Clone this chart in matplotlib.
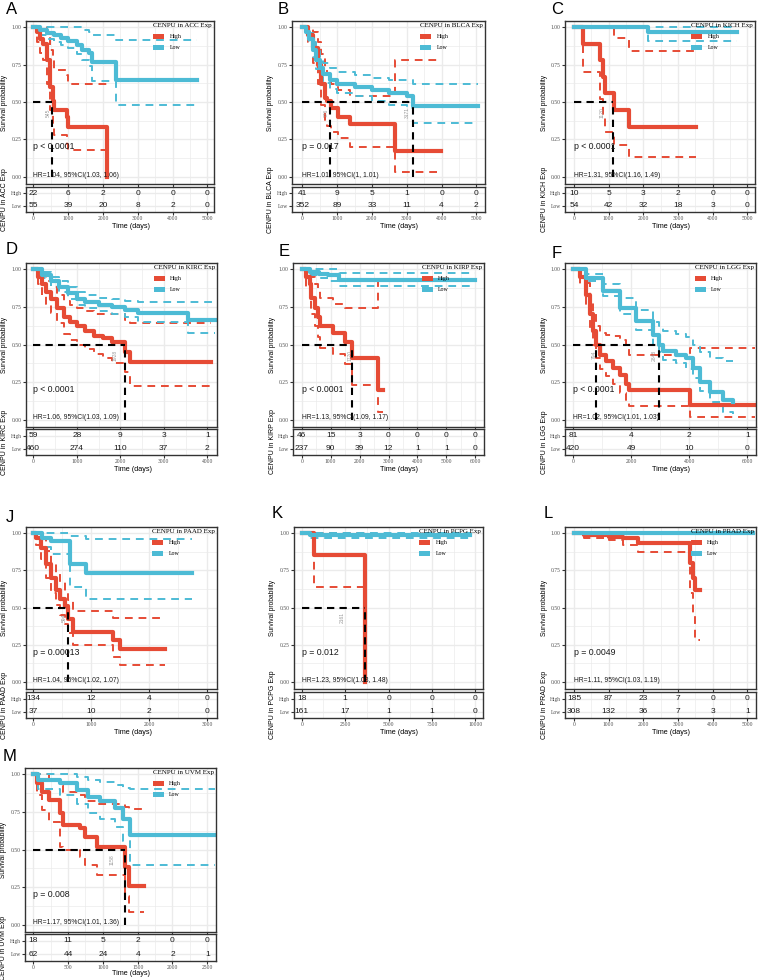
import matplotlib
matplotlib.use("Agg")
import matplotlib.pyplot as plt
from matplotlib.patches import Patch
from matplotlib.ticker import MultipleLocator

RED = "#E64B35"
BLUE = "#4DBBD5"
GRID = "#EBEBEB"
SANS = "Liberation Sans"
SERIF = "Liberation Serif"

plt.rcParams["font.family"] = SERIF

# ---------------- A: ACC ----------------
acc_high_t = [0, 96, 192, 287, 383, 479, 556, 594, 958, 1006, 2126]
acc_high_s = [1.0, 0.97, 0.92, 0.89, 0.78, 0.60, 0.51, 0.45, 0.40, 0.335, 0.0]
acc_high_up = [1.0, 1.0, 1.0, 1.0, 0.95, 0.85, 0.78, 0.715, 0.68, 0.62, 0.62]
acc_high_lo = [1.0, 0.90, 0.83, 0.78, 0.62, 0.45, 0.35, 0.28, 0.22, 0.18, 0.18]
acc_low_t = [0, 200, 400, 600, 800, 1000, 1250, 1400, 1600, 1700, 2370, 4694]
acc_low_s = [1.0, 0.98, 0.96, 0.95, 0.93, 0.91, 0.88, 0.85, 0.83, 0.77, 0.645, 0.645]
acc_low_up = [1.0, 1.0, 1.0, 1.0, 1.0, 1.0, 1.0, 0.98, 0.97, 0.95, 0.915, 0.915]
acc_low_lo = [1.0, 0.95, 0.92, 0.90, 0.88, 0.86, 0.82, 0.78, 0.74, 0.64, 0.48, 0.48]
acc_risk_t = [0, 1000, 2000, 3000, 4000, 5000]
acc_risk_high = [22, 6, 2, 0, 0, 0]
acc_risk_low = [55, 39, 20, 8, 2, 0]
acc_median = [546]
acc_median_lab = ["545"]

# ---------------- B: BLCA ----------------
blca_high_t = [0, 150, 300, 450, 550, 640, 700, 820, 1030, 1370, 2650, 3990]
blca_high_s = [1.0, 0.95, 0.86, 0.75, 0.62, 0.53, 0.51, 0.46, 0.40, 0.35, 0.17, 0.17]
blca_high_up = [1.0, 1.0, 0.97, 0.90, 0.82, 0.73, 0.68, 0.62, 0.58, 0.54, 0.78, 0.78]
blca_high_lo = [1.0, 0.90, 0.76, 0.62, 0.48, 0.38, 0.34, 0.30, 0.26, 0.20, 0.035, 0.035]
blca_low_t = [0, 100, 200, 300, 400, 500, 600, 800, 1000, 1500, 2000, 2500, 3000, 3180, 5050]
blca_low_s = [1.0, 0.97, 0.92, 0.85, 0.78, 0.73, 0.69, 0.65, 0.62, 0.60, 0.58, 0.56, 0.54, 0.475, 0.475]
blca_low_up = [1.0, 1.0, 0.96, 0.90, 0.84, 0.79, 0.76, 0.73, 0.70, 0.68, 0.66, 0.65, 0.65, 0.62, 0.62]
blca_low_lo = [1.0, 0.95, 0.88, 0.80, 0.72, 0.67, 0.63, 0.59, 0.56, 0.54, 0.51, 0.48, 0.46, 0.36, 0.36]
blca_risk_t = [0, 1000, 2000, 3000, 4000, 5000]
blca_risk_high = [41, 9, 5, 1, 0, 0]
blca_risk_low = [352, 89, 33, 11, 4, 2]
blca_median = [805, 3180]
blca_median_lab = ["776", "3171"]

# ---------------- C: KICH ----------------
kich_high_t = [0, 270, 750, 847, 895, 1165, 1588, 3513]
kich_high_s = [1.0, 0.89, 0.78, 0.67, 0.56, 0.445, 0.335, 0.335]
kich_high_up = [1.0, 1.0, 1.0, 1.0, 1.0, 0.93, 0.84, 0.84]
kich_high_lo = [1.0, 0.70, 0.52, 0.41, 0.30, 0.21, 0.135, 0.135]
kich_low_t = [0, 2146, 4700]
kich_low_s = [1.0, 0.97, 0.97]
kich_low_up = [1.0, 1.0, 1.0]
kich_low_lo = [1.0, 0.91, 0.91]
kich_risk_t = [0, 1000, 2000, 3000, 4000, 5000]
kich_risk_high = [10, 5, 3, 2, 0, 0]
kich_risk_low = [54, 42, 32, 18, 3, 0]
kich_median = [1136]
kich_median_lab = ["1120"]

# ---------------- D: KIRC ----------------
kirc_high_t = [0, 100, 200, 300, 400, 550, 700, 850, 1000, 1200, 1400, 1600, 1800, 2107, 2230, 4080]
kirc_high_s = [1.0, 0.95, 0.90, 0.85, 0.80, 0.74, 0.68, 0.65, 0.62, 0.59, 0.56, 0.545, 0.52, 0.45, 0.385, 0.385]
kirc_high_up = [1.0, 1.0, 0.96, 0.92, 0.88, 0.83, 0.79, 0.76, 0.74, 0.72, 0.70, 0.70, 0.70, 0.66, 0.645, 0.645]
kirc_high_lo = [1.0, 0.90, 0.83, 0.77, 0.71, 0.64, 0.57, 0.53, 0.50, 0.47, 0.44, 0.41, 0.38, 0.32, 0.225, 0.225]
kirc_low_t = [0, 200, 400, 600, 800, 1000, 1200, 1500, 1800, 2100, 2400, 3550, 4180]
kirc_low_s = [1.0, 0.96, 0.92, 0.88, 0.84, 0.80, 0.78, 0.765, 0.75, 0.73, 0.71, 0.665, 0.665]
kirc_low_up = [1.0, 0.98, 0.95, 0.92, 0.88, 0.85, 0.83, 0.81, 0.80, 0.79, 0.78, 0.78, 0.78]
kirc_low_lo = [1.0, 0.94, 0.89, 0.85, 0.80, 0.76, 0.74, 0.72, 0.70, 0.68, 0.65, 0.58, 0.58]
kirc_risk_t = [0, 1000, 2000, 3000, 4000]
kirc_risk_high = [59, 28, 9, 3, 1]
kirc_risk_low = [460, 274, 110, 37, 2]
kirc_median = [2107]
kirc_median_lab = ["1928"]

# ---------------- E: KIRP ----------------
kirp_high_t = [0, 160, 276, 334, 450, 565, 622, 1083, 1486, 1751, 2638, 2811]
kirp_high_s = [1.0, 0.95, 0.90, 0.81, 0.74, 0.68, 0.625, 0.58, 0.515, 0.41, 0.20, 0.20]
kirp_high_up = [1.0, 1.0, 0.99, 0.95, 0.90, 0.86, 0.81, 0.77, 0.74, 0.74, 0.92, 0.92]
kirp_high_lo = [1.0, 0.88, 0.80, 0.70, 0.62, 0.55, 0.48, 0.44, 0.37, 0.23, 0.05, 0.05]
kirp_low_t = [0, 300, 600, 900, 1290, 5980]
kirp_low_s = [1.0, 0.98, 0.97, 0.96, 0.93, 0.93]
kirp_low_up = [1.0, 1.0, 1.0, 1.0, 0.975, 0.975]
kirp_low_lo = [1.0, 0.96, 0.94, 0.92, 0.89, 0.89]
kirp_risk_t = [0, 1000, 2000, 3000, 4000, 5000, 6000]
kirp_risk_high = [46, 15, 3, 0, 0, 0, 0]
kirp_risk_low = [237, 90, 39, 12, 1, 1, 0]
kirp_median = [1751]
kirp_median_lab = ["1770"]

# ---------------- F: LGG ----------------
lgg_high_t = [0, 218, 448, 563, 678, 793, 908, 1138, 1368, 1598, 1828, 1920, 4011, 6250]
lgg_high_s = [1.0, 0.95, 0.83, 0.70, 0.59, 0.50, 0.43, 0.39, 0.345, 0.30, 0.24, 0.20, 0.096, 0.096]
lgg_high_up = [1.0, 0.99, 0.91, 0.80, 0.70, 0.62, 0.58, 0.565, 0.56, 0.53, 0.50, 0.43, 0.48, 0.48]
lgg_high_lo = [1.0, 0.90, 0.75, 0.61, 0.50, 0.41, 0.34, 0.29, 0.24, 0.18, 0.13, 0.09, 0.018, 0.018]
lgg_low_t = [0, 448, 1023, 1598, 2172, 2747, 2954, 3092, 3552, 3897, 4126, 4356, 4701, 5161, 5506]
lgg_low_s = [1.0, 0.945, 0.855, 0.745, 0.655, 0.565, 0.50, 0.455, 0.43, 0.41, 0.345, 0.25, 0.185, 0.13, 0.12]
lgg_low_up = [1.0, 0.97, 0.90, 0.81, 0.73, 0.65, 0.62, 0.59, 0.57, 0.55, 0.50, 0.45, 0.41, 0.39, 0.39]
lgg_low_lo = [1.0, 0.92, 0.82, 0.70, 0.60, 0.50, 0.45, 0.40, 0.375, 0.34, 0.28, 0.19, 0.12, 0.05, 0.04]
lgg_risk_t = [0, 2000, 4000, 6000]
lgg_risk_high = [81, 4, 2, 1]
lgg_risk_low = [420, 49, 10, 0]
lgg_median = [793, 2954]
lgg_median_lab = ["794", "2848"]

# ---------------- J: PAAD ----------------
paad_high_t = [0, 50, 133, 217, 300, 383, 467, 550, 603, 684, 1380, 1494, 2270]
paad_high_s = [1.0, 0.97, 0.90, 0.79, 0.70, 0.62, 0.555, 0.51, 0.42, 0.334, 0.28, 0.22, 0.22]
paad_high_up = [1.0, 1.0, 0.96, 0.88, 0.80, 0.73, 0.67, 0.61, 0.55, 0.475, 0.43, 0.43, 0.43]
paad_high_lo = [1.0, 0.92, 0.83, 0.70, 0.60, 0.52, 0.45, 0.39, 0.33, 0.25, 0.17, 0.115, 0.115]
paad_low_t = [0, 144, 300, 633, 900, 2740]
paad_low_s = [1.0, 0.97, 0.945, 0.79, 0.73, 0.73]
paad_low_up = [1.0, 1.0, 1.0, 0.98, 0.96, 0.96]
paad_low_lo = [1.0, 0.91, 0.86, 0.64, 0.555, 0.555]
paad_risk_t = [0, 1000, 2000, 3000]
paad_risk_high = [134, 12, 4, 0]
paad_risk_low = [37, 10, 2, 0]
paad_median = [603]
paad_median_lab = ["594"]

# ---------------- K: PCPG ----------------
pcpg_high_t = [0, 690, 3630]
pcpg_high_s = [1.0, 0.855, 0.0]
pcpg_high_up = [1.0, 1.0, 1.0]
pcpg_high_lo = [1.0, 0.637, 0.637]
pcpg_low_t = [0, 500, 9680]
pcpg_low_s = [1.0, 0.99, 0.99]
pcpg_low_up = [1.0, 1.0, 1.0]
pcpg_low_lo = [1.0, 0.97, 0.97]
pcpg_risk_t = [0, 2500, 5000, 7500, 10000]
pcpg_risk_high = [18, 1, 0, 0, 0]
pcpg_risk_low = [161, 17, 1, 1, 0]
pcpg_median = [3630]
pcpg_median_lab = ["2161"]

# ---------------- L: PRAD ----------------
prad_high_t = [0, 300, 1000, 1400, 1860, 3350, 3420, 3490, 3640]
prad_high_s = [1.0, 0.985, 0.975, 0.965, 0.935, 0.80, 0.70, 0.62, 0.62]
prad_high_up = [1.0, 1.0, 1.0, 1.0, 1.0, 1.0, 1.0, 1.0, 1.0]
prad_high_lo = [1.0, 0.97, 0.955, 0.92, 0.875, 0.60, 0.45, 0.28, 0.28]
prad_low_t = [0, 5170]
prad_low_s = [1.0, 1.0]
prad_low_up = [1.0, 1.0]
prad_low_lo = [1.0, 0.985]
prad_risk_t = [0, 1000, 2000, 3000, 4000, 5000]
prad_risk_high = [185, 87, 23, 7, 0, 0]
prad_risk_low = [308, 132, 36, 7, 3, 1]
prad_median = []
prad_median_lab = []

# ---------------- M: UVM ----------------
uvm_high_t = [0, 48, 120, 230, 384, 432, 672, 744, 912, 1320, 1368, 1584]
uvm_high_s = [1.0, 0.94, 0.885, 0.83, 0.74, 0.66, 0.64, 0.585, 0.52, 0.385, 0.26, 0.26]
uvm_high_up = [1.0, 1.0, 1.0, 0.97, 0.93, 0.88, 0.86, 0.82, 0.80, 0.78, 0.77, 0.77]
uvm_high_lo = [1.0, 0.86, 0.76, 0.685, 0.52, 0.50, 0.45, 0.395, 0.33, 0.19, 0.085, 0.085]
uvm_low_t = [0, 72, 384, 624, 792, 960, 1176, 1296, 1392, 2615]
uvm_low_s = [1.0, 0.96, 0.94, 0.895, 0.85, 0.82, 0.775, 0.70, 0.595, 0.595]
uvm_low_up = [1.0, 1.0, 1.0, 0.98, 0.96, 0.95, 0.93, 0.91, 0.90, 0.90]
uvm_low_lo = [1.0, 0.90, 0.86, 0.80, 0.74, 0.70, 0.65, 0.56, 0.40, 0.40]
uvm_risk_t = [0, 500, 1000, 1500, 2000, 2500]
uvm_risk_high = [18, 11, 5, 2, 0, 0]
uvm_risk_low = [62, 44, 24, 4, 2, 1]
uvm_median = [1317]
uvm_median_lab = ["1158"]

panels = [
    ("A", "ACC", (acc_high_t, acc_high_s, acc_high_up, acc_high_lo),
     (acc_low_t, acc_low_s, acc_low_up, acc_low_lo),
     (acc_risk_t, acc_risk_high, acc_risk_low), acc_median, acc_median_lab,
     "p < 0.0001", "HR=1.04, 95%CI(1.03, 1.06)"),
    ("B", "BLCA", (blca_high_t, blca_high_s, blca_high_up, blca_high_lo),
     (blca_low_t, blca_low_s, blca_low_up, blca_low_lo),
     (blca_risk_t, blca_risk_high, blca_risk_low), blca_median, blca_median_lab,
     "p = 0.017", "HR=1.01, 95%CI(1, 1.01)"),
    ("C", "KICH", (kich_high_t, kich_high_s, kich_high_up, kich_high_lo),
     (kich_low_t, kich_low_s, kich_low_up, kich_low_lo),
     (kich_risk_t, kich_risk_high, kich_risk_low), kich_median, kich_median_lab,
     "p < 0.0001", "HR=1.31, 95%CI(1.16, 1.49)"),
    ("D", "KIRC", (kirc_high_t, kirc_high_s, kirc_high_up, kirc_high_lo),
     (kirc_low_t, kirc_low_s, kirc_low_up, kirc_low_lo),
     (kirc_risk_t, kirc_risk_high, kirc_risk_low), kirc_median, kirc_median_lab,
     "p < 0.0001", "HR=1.06, 95%CI(1.03, 1.09)"),
    ("E", "KIRP", (kirp_high_t, kirp_high_s, kirp_high_up, kirp_high_lo),
     (kirp_low_t, kirp_low_s, kirp_low_up, kirp_low_lo),
     (kirp_risk_t, kirp_risk_high, kirp_risk_low), kirp_median, kirp_median_lab,
     "p < 0.0001", "HR=1.13, 95%CI(1.09, 1.17)"),
    ("F", "LGG", (lgg_high_t, lgg_high_s, lgg_high_up, lgg_high_lo),
     (lgg_low_t, lgg_low_s, lgg_low_up, lgg_low_lo),
     (lgg_risk_t, lgg_risk_high, lgg_risk_low), lgg_median, lgg_median_lab,
     "p < 0.0001", "HR=1.02, 95%CI(1.01, 1.03)"),
    ("J", "PAAD", (paad_high_t, paad_high_s, paad_high_up, paad_high_lo),
     (paad_low_t, paad_low_s, paad_low_up, paad_low_lo),
     (paad_risk_t, paad_risk_high, paad_risk_low), paad_median, paad_median_lab,
     "p = 0.00013", "HR=1.04, 95%CI(1.02, 1.07)"),
    ("K", "PCPG", (pcpg_high_t, pcpg_high_s, pcpg_high_up, pcpg_high_lo),
     (pcpg_low_t, pcpg_low_s, pcpg_low_up, pcpg_low_lo),
     (pcpg_risk_t, pcpg_risk_high, pcpg_risk_low), pcpg_median, pcpg_median_lab,
     "p = 0.012", "HR=1.23, 95%CI(1.03, 1.48)"),
    ("L", "PRAD", (prad_high_t, prad_high_s, prad_high_up, prad_high_lo),
     (prad_low_t, prad_low_s, prad_low_up, prad_low_lo),
     (prad_risk_t, prad_risk_high, prad_risk_low), prad_median, prad_median_lab,
     "p = 0.0049", "HR=1.11, 95%CI(1.03, 1.19)"),
    ("M", "UVM", (uvm_high_t, uvm_high_s, uvm_high_up, uvm_high_lo),
     (uvm_low_t, uvm_low_s, uvm_low_up, uvm_low_lo),
     (uvm_risk_t, uvm_risk_high, uvm_risk_low), uvm_median, uvm_median_lab,
     "p = 0.008", "HR=1.17, 95%CI(1.01, 1.36)"),
]

# layout in pixels: row, box left, box right, xlim, minor step, letter pos, median label x
LAYOUT = {
    "A": (1, 26, 214, (-210, 5190), 500, (6, 10), [430]),
    "B": (1, 292, 485, (-296, 5250), 500, (278, 10), [690, 3010]),
    "C": (1, 565, 755, (-260, 5222), 500, (551, 10), [800]),
    "D": (2, 26, 217, (-168, 4224), 500, (6, 249), [1877]),
    "E": (2, 293, 484, (-301, 6301), 500, (279, 252), [1660]),
    "F": (2, 565, 756, (-286, 6300), 1000, (552, 253), [720, 2800]),
    "J": (3, 26, 217, (-126, 3167), 500, (6, 518), [540]),
    "K": (3, 294, 483, (-444, 10442), 1250, (272, 514), [2315]),
    "L": (3, 565, 756, (-260, 5251), 500, (544, 514), []),
    "M": (4, 25, 216, (-119, 2625), 250, (3, 756), [1130]),
}
# box top, box bottom, table top, table bottom, xlabel y
ROWS = {1: (21, 184, 187, 212, 226), 2: (263, 427, 429, 455, 469),
        3: (527, 689, 692, 718, 732), 4: (768, 932, 934, 961, 973)}

W, H = 758, 980
fig = plt.figure(figsize=(W / 100, H / 100), dpi=100)


def rect(l, t, r, b):
    return [l / W, 1 - b / H, (r - l) / W, (b - t) / H]


def style_axes(a):
    a.set_axisbelow(True)
    for sp in a.spines.values():
        sp.set_linewidth(1.0)
        sp.set_color("#333333")
    a.tick_params(which="major", direction="out", length=2, width=0.8,
                  color="#333333", labelsize=4, labelcolor="#4D4D4D", pad=1)
    a.tick_params(which="minor", length=0)


yt = [0, 0.25, 0.5, 0.75, 1.0]

for key, cancer, high, low, risk, med, med_lab, ptxt, hrtxt in panels:
    row, left, right, xlim, minor, (lx, ly), lab_x = LAYOUT[key]
    top, bot, ttop, tbot, xl_y = ROWS[row]

    ax = fig.add_axes(rect(left, top, right, bot))
    ax.set_xlim(*xlim)
    ax.set_ylim(-0.048, 1.042)

    for (t, s, up, lo), col in ((high, RED), (low, BLUE)):
        ax.step(t, up, where="post", color=col, lw=1.4, ls=(0, (4, 3)))
        ax.step(t, lo, where="post", color=col, lw=1.4, ls=(0, (4, 3)))
    for (t, s, up, lo), col in ((high, RED), (low, BLUE)):
        ax.step(t, s, where="post", color=col, lw=3.0)

    if med:
        ax.plot([0, max(med)], [0.5, 0.5], color="black", lw=1.5, ls=(0, (3.5, 2.5)))
        for m in med:
            ax.plot([m, m], [0, 0.5], color="black", lw=1.5, ls=(0, (3.5, 2.5)))
        for xl, lab in zip(lab_x, med_lab):
            ax.text(xl, 0.43, lab, rotation=90, fontsize=3.6, color="#9A9A9A",
                    ha="center", va="center", family=SANS)

    ax.text(0, 0.2, ptxt, fontsize=6.3, family=SANS, ha="left", va="center", color="#1A1A1A")
    ax.text(0, 0.012, hrtxt, fontsize=4.9, family=SANS, ha="left", va="center", color="#1A1A1A")

    handles = [Patch(facecolor=RED, edgecolor="none", label="High"),
               Patch(facecolor=BLUE, edgecolor="none", label="Low")]
    ax.legend(handles=handles, title=f"CENPU in {cancer} Exp", loc="upper right",
              frameon=False, prop={"family": SERIF, "size": 4.2},
              title_fontproperties={"family": SERIF, "size": 5.0},
              alignment="left", handlelength=1.9, handleheight=1.0,
              handletextpad=0.9, labelspacing=0.95, borderaxespad=0.15, borderpad=0.2)

    ax.set_xticks(risk[0])
    ax.xaxis.set_minor_locator(MultipleLocator(minor))
    ax.set_yticks(yt)
    ax.set_yticklabels([f"{v:.2f}" for v in yt])
    ax.yaxis.set_minor_locator(MultipleLocator(0.125))
    ax.grid(which="major", color=GRID, lw=1.0)
    ax.grid(which="minor", color=GRID, lw=0.5)
    style_axes(ax)
    ax.tick_params(axis="x", labelbottom=False)

    # risk table
    tb = fig.add_axes(rect(left, ttop, right, tbot))
    tb.set_xlim(*xlim)
    tb.set_ylim(0.5, 2.5)
    tb.set_yticks([1, 2])
    tb.set_yticklabels(["Low", "High"])
    tb.set_xticks(risk[0])
    tb.set_xticklabels([str(v) for v in risk[0]])
    tb.xaxis.set_minor_locator(MultipleLocator(minor))
    tb.grid(which="major", color=GRID, lw=1.0)
    tb.grid(which="minor", axis="x", color=GRID, lw=0.5)
    style_axes(tb)
    for t, nh, nl in zip(risk[0], risk[1], risk[2]):
        tb.text(t, 2, str(nh), fontsize=6, family=SANS, ha="center", va="center", color="#1A1A1A")
        tb.text(t, 1, str(nl), fontsize=6, family=SANS, ha="center", va="center", color="#1A1A1A")

    fig.text((left - 21) / W, 1 - (top + bot) / 2 / H, "Survival probability",
             rotation=90, fontsize=4.8, family=SANS, ha="center", va="center")
    fig.text((left - 21) / W, 1 - (ttop + tbot) / 2 / H, f"CENPU in {cancer} Exp",
             rotation=90, fontsize=5, family=SANS, ha="center", va="center")
    fig.text(((left + right) / 2 + 11) / W, 1 - xl_y / H, "Time (days)",
             fontsize=5.2, family=SANS, ha="center", va="center")
    fig.text(lx / W, 1 - ly / H, key, fontsize=12, family=SANS, ha="left", va="center")

fig.savefig("out.png", dpi=100)
